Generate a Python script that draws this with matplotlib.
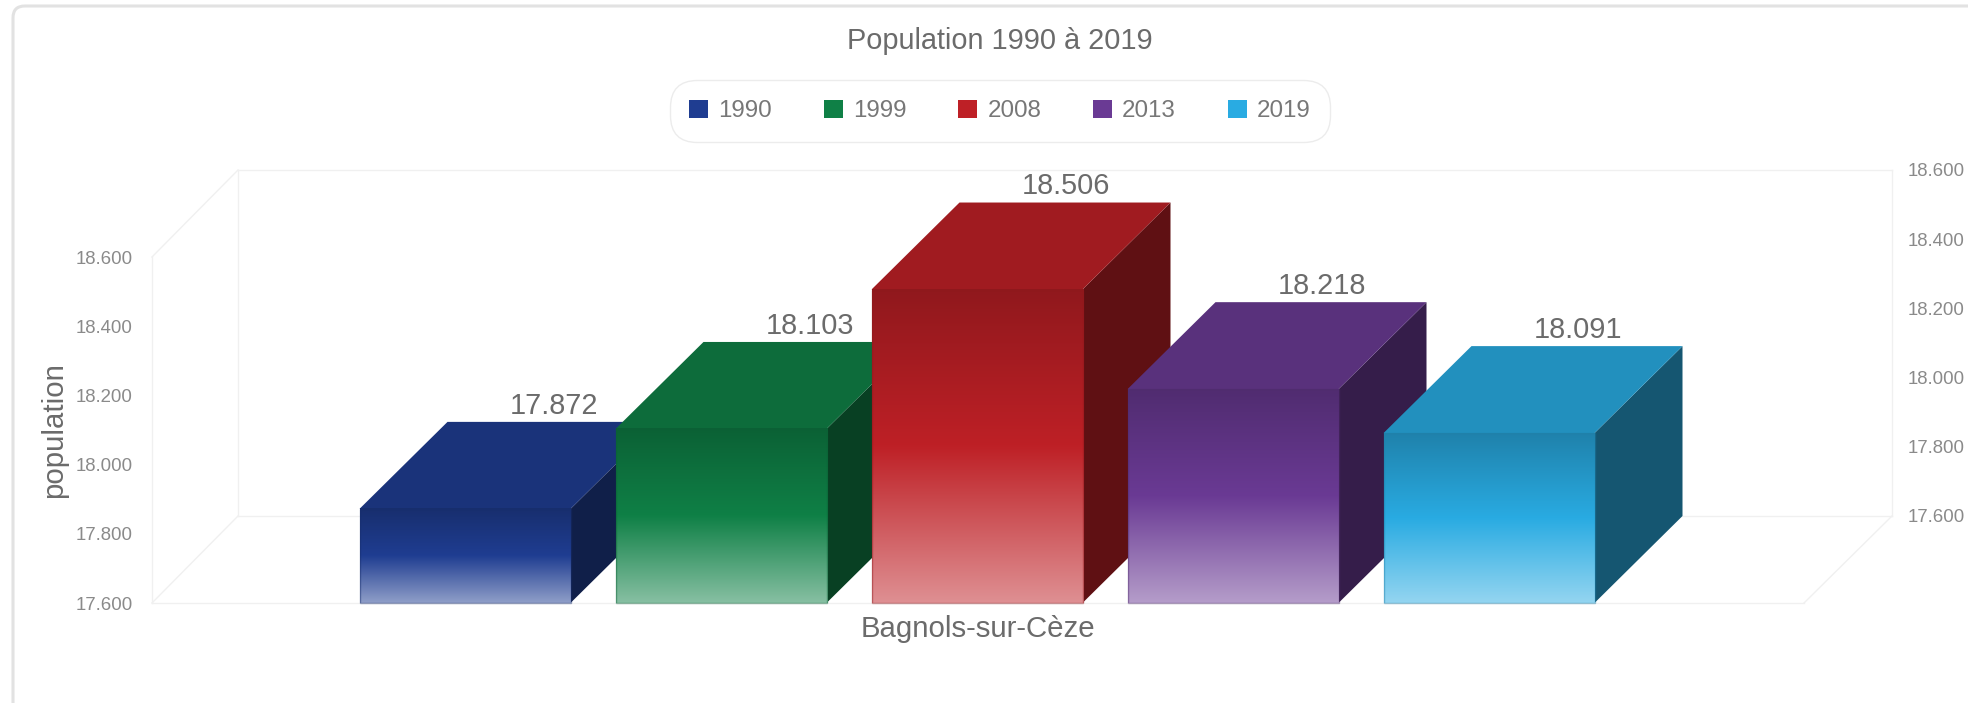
import numpy as np
import matplotlib
matplotlib.use("Agg")
import matplotlib.pyplot as plt
from matplotlib.colors import to_rgb
from matplotlib.patches import FancyBboxPatch, Patch, Polygon, Rectangle

plt.rcParams['font.family'] = ['Liberation Sans', 'DejaVu Sans']

# data
years = ['1990', '1999', '2008', '2013', '2019']
population = [17872, 18103, 18506, 18218, 18091]
colors = ['#1f3d91', '#0f8046', '#be2026', '#6a3a94', '#29abe2']
y_ticks = [17600, 17800, 18000, 18200, 18400, 18600]
category = 'Bagnols-sur-Cèze'

W, H = 1968, 703
GRID = '#f0f0f0'
TICK = '#8a8a8a'
TEXT = '#6b6b6b'


def box(x0, y_top, x1, y_bottom):
    # pixel box (y from the top) to figure fractions
    return [x0 / W, 1 - y_bottom / H, (x1 - x0) / W, (y_bottom - y_top) / H]


def shade(c, k):
    return tuple(np.array(to_rgb(c)) * k)


def fmt(v):
    return f'{v:,}'.replace(',', '.')


fig = plt.figure(figsize=(W / 100, H / 100), dpi=100, facecolor='white')

# card behind the chart, runs off the right and bottom edges
fig.add_artist(FancyBboxPatch((13 / W, -0.1), 1.2, 1.1 - 6 / H, transform=fig.transFigure,
                              boxstyle='round,pad=0,rounding_size=0.006', mutation_aspect=W / H,
                              fc='white', ec='#e2e2e2', lw=2.2))

# back wall
ax_back = fig.add_axes(box(238, 170, 1892, 516), zorder=1)
ax_back.set_facecolor('none')
ax_back.set_ylim(y_ticks[0], y_ticks[-1])
ax_back.set_xticks([])
ax_back.set_yticks(y_ticks)
ax_back.set_yticklabels([fmt(v) for v in y_ticks], fontsize=13.4, color=TICK)
ax_back.yaxis.tick_right()
ax_back.tick_params(axis='y', length=0, pad=11.5)
for s in ax_back.spines.values():
    s.set_color(GRID)
    s.set_linewidth(1)

# front plane, bars live here
ax = fig.add_axes(box(152, 257, 1804, 603), zorder=2)
ax.set_facecolor('none')
slot = 256.0
half = (1804 - 152) / 2 / slot
depth_x = 88 / slot
depth_y = 87 / 346 * (y_ticks[-1] - y_ticks[0])
bar_w = 211 / slot
base = y_ticks[0]

# floor and side wall edges
for yv in (y_ticks[0], y_ticks[-1]):
    ax.plot([-half, -half + 86 / slot], [yv, yv + depth_y], color=GRID, lw=1, clip_on=False, zorder=1)
ax.plot([half, half + 88 / slot], [base, base + depth_y], color=GRID, lw=1, clip_on=False, zorder=1)

for i, (val, c) in enumerate(zip(population, colors)):
    x0 = i - 2 - bar_w / 2 - 1 / slot
    x1 = x0 + bar_w
    z = 3 + i
    ax.add_patch(Polygon([(x1, base), (x1 + depth_x, base + depth_y), (x1 + depth_x, val + depth_y), (x1, val)],
                         fc=shade(c, 0.5), ec='none', clip_on=False, zorder=z))
    ax.add_patch(Polygon([(x0, val), (x0 + depth_x, val + depth_y), (x1 + depth_x, val + depth_y), (x1, val)],
                         fc=shade(c, 0.84), ec='none', clip_on=False, zorder=z))
    # front face gradient: dark, full colour halfway, then fading to light
    rgb = np.array(to_rgb(c))
    t = np.linspace(0, 1, 200)[:, None]
    dark = rgb * 0.76
    light = rgb * 0.5 + 0.5
    grad = np.where(t < 0.5, dark + (rgb - dark) * t * 2, rgb + (light - rgb) * (t - 0.5) * 2)
    ax.imshow(grad[:, None, :], extent=(x0, x1, base, val), aspect='auto', origin='upper',
              interpolation='bilinear', clip_on=False, zorder=z)
    ax.add_patch(Rectangle((x0, base), bar_w, val - base, fc='none', ec=shade(c, 0.75), lw=1, alpha=0.45,
                           clip_on=False, zorder=z))
    ax.annotate(fmt(val), (i - 2 + depth_x, val + depth_y), xytext=(0, 1.5), textcoords='offset points',
                ha='center', va='bottom', fontsize=20.8, color=TEXT, zorder=20, annotation_clip=False)

ax.set_xlim(-half, half)
ax.set_ylim(y_ticks[0], y_ticks[-1])
ax.set_yticks(y_ticks)
ax.set_yticklabels([fmt(v) for v in y_ticks], fontsize=13.4, color=TICK)
ax.set_xticks([0])
ax.set_xticklabels([category], fontsize=21.2, color=TEXT)
ax.tick_params(axis='y', length=0, pad=14)
ax.tick_params(axis='x', length=0, pad=8.5)
ax.set_ylabel('population', fontsize=21.2, color=TEXT, labelpad=5)
for name in ('top', 'right'):
    ax.spines[name].set_visible(False)
for name in ('left', 'bottom'):
    ax.spines[name].set_color(GRID)
    ax.spines[name].set_linewidth(1)

fig.text(1000 / W, 1 - 41 / H, 'Population 1990 à 2019', ha='center', va='center', fontsize=20.8, color=TEXT)

handles = [Patch(facecolor=c, label=y) for y, c in zip(years, colors)]
leg = fig.legend(handles=handles, ncol=5, loc='center', bbox_to_anchor=(1000 / W, 1 - 111 / H),
                 fontsize=17.4, handlelength=0.78, handleheight=0.78, handletextpad=0.42,
                 columnspacing=2.15, labelcolor='#777777', borderpad=0.8, borderaxespad=0,
                 frameon=True, fancybox=True, edgecolor='#ececec', facecolor='white', framealpha=1)
leg.get_frame().set_boxstyle('round', pad=0, rounding_size=1.1)
leg.get_frame().set_linewidth(1)

fig.savefig('out.png', dpi=100)
